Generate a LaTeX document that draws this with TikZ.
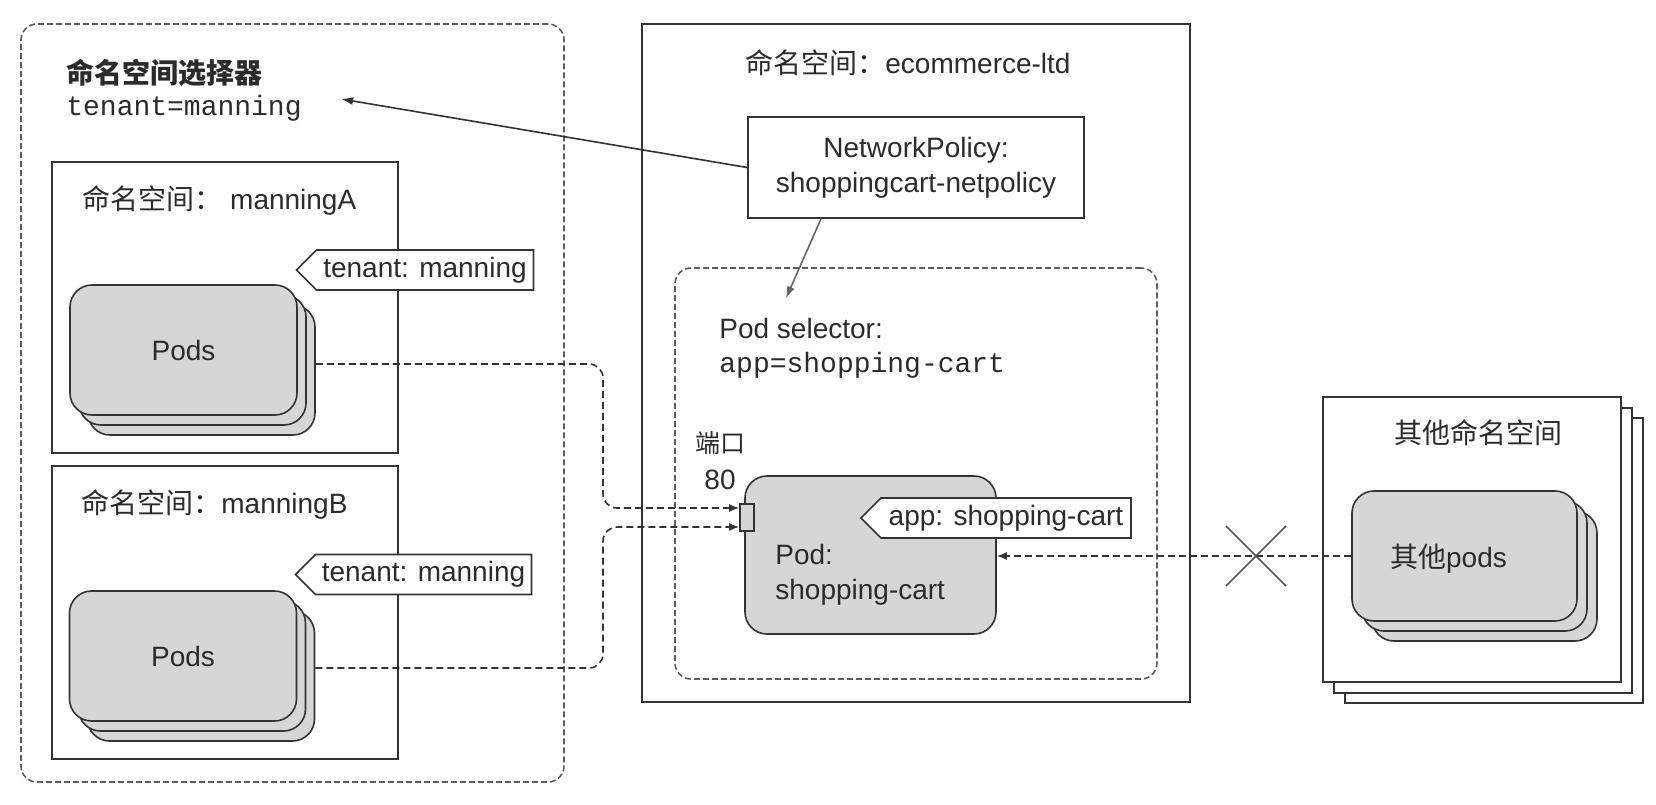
\documentclass[tikz,border=0pt]{standalone}
\usepackage{fontspec}
\setmainfont{Liberation Sans}
\setmonofont{Liberation Mono}
\newfontfamily\cjk{Noto Sans CJK SC}
\usetikzlibrary{arrows.meta,calc,shapes.symbols}
\definecolor{lc}{HTML}{333333}
\definecolor{tc}{HTML}{2B2B2B}
\definecolor{podfill}{HTML}{D6D6D6}
\begin{document}
\begin{tikzpicture}[x=0.5pt,y=-0.5pt,
  every node/.style={text=tc, font=\fontsize{14pt}{17.5pt}\selectfont},
  nsbox/.style={draw=lc, line width=0.8pt, fill=white, inner sep=0pt},
  selbox/.style={draw=lc!80, line width=0.8pt, dash pattern=on 3pt off 1.5pt, rounded corners=8pt, inner sep=0pt},
  podbox/.style={draw=lc, line width=0.8pt, fill=podfill, rounded corners=11pt, inner sep=0pt, minimum width=113.5pt, minimum height=65pt},
  tagbox/.style={shape=signal, signal to=west, signal from=nowhere, signal pointer angle=90, draw=lc, line width=0.8pt, fill=white, inner sep=0pt, minimum height=20pt},
  lbl/.style={inner sep=0pt, anchor=west},
  mono/.style={font=\ttfamily\fontsize{14pt}{17pt}\selectfont},
  conn/.style={draw=lc, line width=0.8pt, dash pattern=on 3.5pt off 2pt, -{Latex[length=5pt,width=4pt]}},
  arr/.style={draw=lc, line width=0.8pt, -{Latex[length=6pt,width=4pt]}},
  xmark/.style={draw=lc!85, line width=0.8pt},
]
\useasboundingbox (0,0) rectangle (1656,804);

% ---------- namespace selector ----------
\node[selbox, minimum width=271.5pt, minimum height=379pt] (sel) at (292.5,403) {};
\node[lbl] (seltitle) at (66,73) {\cjk\bfseries 命名空间选择器};
\node[lbl, mono] (selcode) at (66,108) {tenant=manning};

% manningA
\node[nsbox, minimum width=173pt, minimum height=145.5pt] (nsA) at (225,307.5) {};
\node[lbl] (nsAt) at (82,200) {{\cjk 命名空间：} manningA};
\node[podbox] (podsA3) at (201.5,370) {};
\node[podbox] (podsA2) at (192.5,360) {};
\node[podbox] (podsA) at (183.5,350) {Pods};
\node[tagbox, minimum width=118.5pt] (tagA) at (425,270) {tenant: manning};

% manningB
\node[nsbox, minimum width=173pt, minimum height=146.5pt] (nsB) at (225,612.5) {};
\node[lbl] (nsBt) at (81,504) {{\cjk 命名空间：}manningB};
\node[podbox] (podsB3) at (201,676) {};
\node[podbox] (podsB2) at (192,666) {};
\node[podbox] (podsB) at (183,656) {Pods};
\node[tagbox, minimum width=118pt] (tagB) at (423.5,574.5) {tenant: manning};

% ---------- ecommerce-ltd ----------
\node[nsbox, minimum width=274pt, minimum height=339pt] (ec) at (916,363) {};
\node[lbl] (ect) at (745,63) {{\cjk 命名空间：}ecommerce-ltd};
\node[nsbox, minimum width=168pt, minimum height=50.5pt, align=center] (np) at (916,167.5) {NetworkPolicy:\\shoppingcart-netpolicy};
\node[selbox, minimum width=241pt, minimum height=205.5pt] (ps) at (916,473.5) {};
\node[lbl] (pstitle) at (719,328) {Pod selector:};
\node[lbl, mono] (pscode) at (719,365) {app=shopping-cart};
\node[inner sep=0pt, font=\fontsize{12.5pt}{15pt}\selectfont] (portlbl) at (720,443) {\cjk 端口};
\node[inner sep=0pt] (portnum) at (720,480) {80};
\node[podbox, minimum width=125.5pt, minimum height=79pt] (pod) at (870.5,555) {};
\node[lbl, align=left] (podlbl) at (775,575) {Pod:\\shopping-cart};
\node[draw=lc, fill=podfill, line width=0.8pt, minimum width=7pt, minimum height=13.5pt, inner sep=0pt] (port) at (747,517.5) {};
\node[tagbox, minimum width=135pt] (tagapp) at (1006,518) {app: shopping-cart};

% ---------- other namespaces ----------
\node[nsbox, minimum width=149pt, minimum height=142.5pt] (on3) at (1494,560.5) {};
\node[nsbox, minimum width=149pt, minimum height=142.5pt] (on2) at (1483,550.5) {};
\node[nsbox, minimum width=149pt, minimum height=142.5pt] (on) at (1472,539.5) {};
\node[inner sep=0pt] (ontitle) at (1478,433) {\cjk 其他命名空间};
\node[podbox, minimum width=112.5pt] (op3) at (1484.5,576) {};
\node[podbox, minimum width=112.5pt] (op2) at (1474.5,566) {};
\node[podbox, minimum width=112.5pt, text depth=0pt] (op) at (1464.5,556) {\hspace*{-16pt}{\cjk 其他}pods};

% ---------- connectors ----------
\coordinate (pa) at ([yshift=4.75pt]port.west);
\coordinate (pb) at ([yshift=-4.75pt]port.west);
\coordinate (turn) at (603,0);
\draw[conn, rounded corners=7pt] ([yshift=3pt]podsA3.east) -| (turn |- pa) -- (pa);
\draw[conn, rounded corners=7pt] ([yshift=4pt]podsB3.east) -| (turn |- pb) -- (pb);
\draw[conn] (op.west) -- (op.west -| pod.east);
\coordinate (xm) at (1256,556);
\draw[xmark] ($(xm)+(-30,-30)$) -- ($(xm)+(30,30)$);
\draw[xmark] ($(xm)+(-30,30)$) -- ($(xm)+(30,-30)$);
\draw[arr] (np.west) -- ($(selcode.east)+(39,-9)$);
\draw[arr, draw=lc!75] ($(np.south)+(-95,0)$) -- ($(pstitle.north west)+(67,-19)$);
\end{tikzpicture}
\end{document}
